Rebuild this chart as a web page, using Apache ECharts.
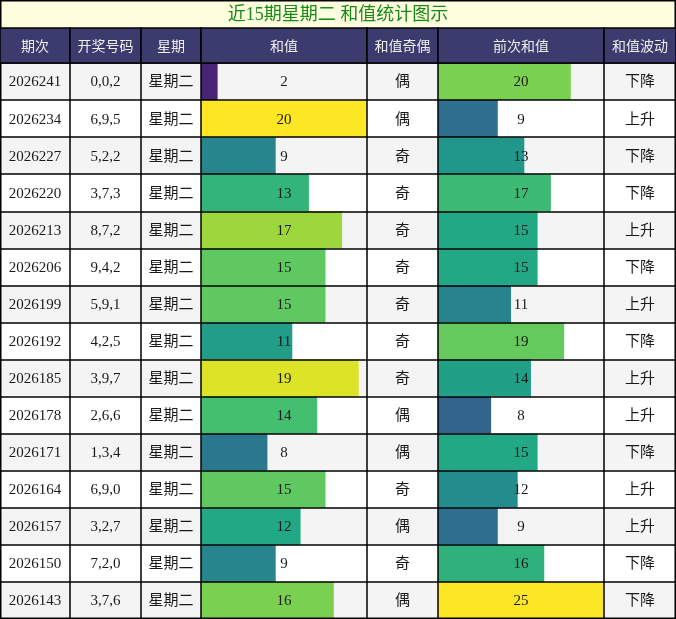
<!DOCTYPE html>
<html>
<head>
<meta charset="utf-8">
<script src="https://cdn.jsdelivr.net/npm/echarts@6/dist/echarts.min.js"></script>
<style>
  html, body { margin: 0; padding: 0; background: #fff; }
  #main { width: 676px; height: 619px; }
</style>
</head>
<body>
<div id="main"></div>
<script>
// table data
const titleText = '近15期星期二 和值统计图示';
const headers = ['期次', '开奖号码', '星期', '和值', '和值奇偶', '前次和值', '和值波动'];
const periods = ['2026241', '2026234', '2026227', '2026220', '2026213', '2026206', '2026199', '2026192',
  '2026185', '2026178', '2026171', '2026164', '2026157', '2026150', '2026143'];
const drawNumbers = ['0,0,2', '6,9,5', '5,2,2', '3,7,3', '8,7,2', '9,4,2', '5,9,1', '4,2,5',
  '3,9,7', '2,6,6', '1,3,4', '6,9,0', '3,2,7', '7,2,0', '3,7,6'];
const weekdays = periods.map(() => '星期二');
const sums = [2, 20, 9, 13, 17, 15, 15, 11, 19, 14, 8, 15, 12, 9, 16];
const parity = ['偶', '偶', '奇', '奇', '奇', '奇', '奇', '奇', '奇', '偶', '偶', '奇', '偶', '奇', '偶'];
const prevSums = [20, 9, 13, 17, 15, 15, 11, 19, 14, 8, 15, 12, 9, 16, 25];
const trend = ['下降', '上升', '下降', '下降', '上升', '下降', '上升', '下降', '上升', '上升', '下降', '上升', '上升', '下降', '下降'];

// layout
const colEdges = [0, 70, 141, 201, 367, 438, 604, 676];
const titleH = 28, headerTop = 28, bodyTop = 63, bodyH = 556;
const viridis = ['#440154', '#482475', '#414487', '#355f8d', '#2a788e', '#21918c',
  '#22a884', '#44bf70', '#7ad151', '#bddf26', '#fde725'];
const FONT = '"Liberation Serif", "Noto Sans CJK SC", serif';

const columns = [
  { labels: periods },
  { labels: drawNumbers },
  { labels: weekdays },
  { labels: sums.map(String), bars: sums, max: 20 },
  { labels: parity },
  { labels: prevSums.map(String), bars: prevSums, max: 25 },
  { labels: trend }
];

const grid = [], xAxis = [], yAxis = [], series = [], visualMap = [], graphic = [];
const rowIdx = periods.map((p, i) => i);

columns.forEach((col, g) => {
  grid.push({
    left: colEdges[g], top: bodyTop,
    width: colEdges[g + 1] - colEdges[g], height: bodyH,
    show: false, containLabel: false
  });
  xAxis.push({ gridIndex: g, type: 'value', min: 0, max: col.max || 1, show: false });
  // background stripes
  yAxis.push({
    gridIndex: g, type: 'category', data: periods, inverse: true, z: 0,
    axisLine: { show: false }, axisTick: { show: false }, axisLabel: { show: false },
    splitLine: { show: false },
    splitArea: { show: true, interval: 0, areaStyle: { color: ['#f4f4f4', '#ffffff'] } }
  });
  // row lines drawn above the bars
  yAxis.push({
    gridIndex: g, type: 'category', data: periods, inverse: true, z: 5,
    axisLine: { show: false }, axisTick: { show: false }, axisLabel: { show: false },
    splitLine: { show: true, interval: 0, lineStyle: { color: '#000', width: 1.5 } },
    splitArea: { show: false }
  });
  if (col.bars) {
    visualMap.push({
      type: 'continuous', show: false, seriesIndex: series.length,
      dimension: 0, min: 0, max: col.max, inRange: { color: viridis }
    });
    series.push({
      type: 'bar', xAxisIndex: g, yAxisIndex: 2 * g,
      barCategoryGap: '0%', barGap: '0%', z: 2,
      data: col.bars.map((v, i) => [v, i]),
      silent: true, animation: false
    });
  }
  const labels = col.labels;
  series.push({
    type: 'custom', xAxisIndex: g, yAxisIndex: 2 * g, z: 8,
    data: rowIdx.map(i => [0, i]),
    encode: { x: 0, y: 1 },
    animation: false, silent: true,
    renderItem: function (params, api) {
      const cs = params.coordSys;
      const y = api.coord([0, api.value(1)])[1];
      return {
        type: 'text',
        style: {
          text: labels[params.dataIndex],
          x: cs.x + cs.width / 2, y: y + 1,
          align: 'center', verticalAlign: 'middle',
          font: '15px ' + FONT, fill: '#1a1a1a'
        }
      };
    }
  });
});

// title bar
graphic.push({
  type: 'rect', z: 100,
  shape: { x: 0.75, y: 0.75, width: 674.5, height: titleH },
  style: { fill: '#ffffe0', stroke: '#000', lineWidth: 1.5 }
});
graphic.push({
  type: 'text', z: 101,
  style: {
    text: titleText, x: 338, y: titleH / 2 + 1, align: 'center', verticalAlign: 'middle',
    font: '18px ' + FONT, fill: '#168a16'
  }
});
// header cells
headers.forEach((h, i) => {
  graphic.push({
    type: 'rect', z: 100,
    shape: { x: colEdges[i], y: headerTop, width: colEdges[i + 1] - colEdges[i], height: bodyTop - headerTop },
    style: { fill: '#3c3b6e', stroke: '#000', lineWidth: 1.5 }
  });
  graphic.push({
    type: 'text', z: 101,
    style: {
      text: h, x: (colEdges[i] + colEdges[i + 1]) / 2, y: (headerTop + bodyTop) / 2,
      align: 'center', verticalAlign: 'middle',
      font: '14px "Noto Sans CJK SC", sans-serif', fill: '#eeeeee'
    }
  });
});
// vertical column lines and outer frame
colEdges.forEach((x, i) => {
  const xx = i === 0 ? 0.75 : (i === colEdges.length - 1 ? 675.25 : x);
  graphic.push({
    type: 'line', z: 100,
    shape: { x1: xx, y1: bodyTop, x2: xx, y2: 619 },
    style: { stroke: '#000', lineWidth: 1.5 }
  });
});
graphic.push({
  type: 'line', z: 100,
  shape: { x1: 0, y1: 618.25, x2: 676, y2: 618.25 },
  style: { stroke: '#000', lineWidth: 1.5 }
});

const chart = echarts.init(document.getElementById('main'), null, { renderer: 'canvas' });
chart.setOption({
  backgroundColor: '#ffffff',
  animation: false,
  grid: grid,
  xAxis: xAxis,
  yAxis: yAxis,
  visualMap: visualMap,
  series: series,
  graphic: graphic
});
</script>
</body>
</html>
